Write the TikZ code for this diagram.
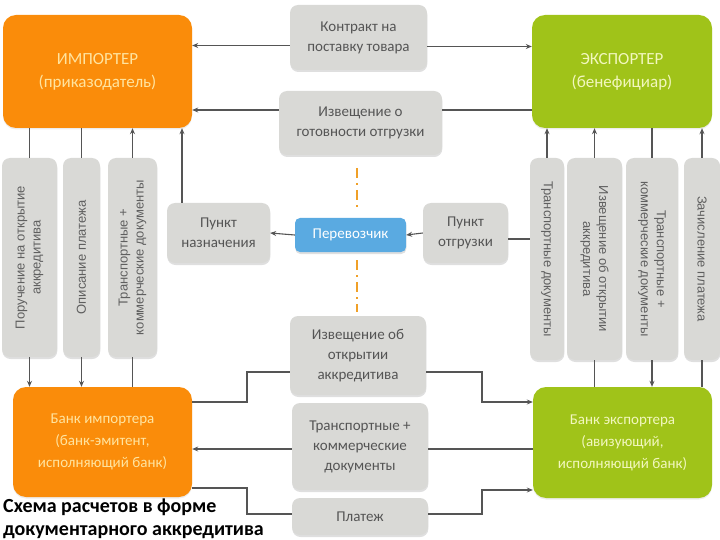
\documentclass[tikz,border=0pt]{standalone}
\usepackage{fontspec}
\setmainfont{Carlito}
\newfontfamily\arialf{Liberation Sans}
\usetikzlibrary{arrows.meta,shadows,calc}
\definecolor{impor}{RGB}{250,140,10}
\definecolor{expgr}{RGB}{160,195,25}
\definecolor{boxgray}{RGB}{217,217,214}
\definecolor{boxtext}{RGB}{85,85,85}
\definecolor{vtextgray}{RGB}{95,95,95}
\definecolor{carblue}{RGB}{90,170,225}
\definecolor{imptext}{RGB}{255,228,160}
\definecolor{exptext}{RGB}{242,247,190}
\definecolor{linegray}{RGB}{85,85,85}
\definecolor{dashor}{RGB}{240,160,40}
\begin{document}
\begin{tikzpicture}[x=1pt,y=-1pt,
  gbox/.style={fill=boxgray, rounded corners=8pt, inner sep=0pt, align=center, text=boxtext,
    font=\fontsize{15}{20}\selectfont,
    drop shadow={shadow xshift=0.3pt, shadow yshift=-2pt, opacity=0.25}},
  vtext/.style={font=\arialf\fontsize{13}{16}\selectfont, text=vtextgray, align=center, inner sep=0pt},
  cbox/.style={rounded corners=13pt, inner sep=0pt, align=center,
    drop shadow={shadow xshift=0pt, shadow yshift=-1.5pt, opacity=0.15}},
  conn/.style={draw=linegray, line width=1.1pt},
  arr/.style={conn, -{Stealth[length=6pt,width=5pt]}}
]
\useasboundingbox (0,0) rectangle (720,540);
% main parties
\node[cbox, fill=impor, minimum width=189pt, minimum height=113pt, text=imptext,
  font=\fontsize{17}{23}\selectfont] (imp) at (97.5,71.5) {ИМПОРТЕР\\(приказодатель)};
\node[cbox, fill=expgr, minimum width=180pt, minimum height=113pt, text=exptext,
  font=\fontsize{17}{23}\selectfont] (exp) at (622,71.5) {ЭКСПОРТЕР\\(бенефициар)};
\node[cbox, fill=impor, minimum width=179pt, minimum height=110pt, text=imptext,
  font=\fontsize{15}{22}\selectfont] (bankI) at (102.5,442) {Банк импортера\\(банк-эмитент,\\исполняющий банк)};
\node[cbox, fill=expgr, minimum width=179pt, minimum height=111pt, text=exptext,
  font=\fontsize{15}{22}\selectfont] (bankE) at (622.5,442.5) {Банк экспортера\\(авизующий,\\исполняющий банк)};
% top middle
\node[gbox, minimum width=137pt, minimum height=65pt] (contract) at (358.5,37.5) {Контракт на\\поставку товара};
\node[gbox, minimum width=163pt, minimum height=64pt] (notif) at (360.5,123) {Извещение о\\готовности отгрузки};
% carrier row
\node[gbox, minimum width=103pt, minimum height=60pt] (punktN) at (218.5,233) {Пункт\\назначения};
\node[gbox, fill=carblue, text=white, rounded corners=5pt, minimum width=111pt, minimum height=34pt] (carrier) at (350.5,235) {Перевозчик};
\node[gbox, minimum width=85pt, minimum height=60pt] (punktO) at (465.5,233) {Пункт\\отгрузки};
% bottom middle
\node[gbox, minimum width=136pt, minimum height=79pt] (izvO) at (358,355.5) {Извещение об\\открытии\\аккредитива};
\node[gbox, minimum width=136pt, minimum height=87pt] (docs) at (360,446.5) {Транспортные +\\коммерческие\\документы};
\node[gbox, minimum width=136pt, minimum height=37pt] (pay) at (360,516.5) {Платеж};
% left vertical boxes
\node[gbox, minimum width=55pt, minimum height=199pt] (vA) at (29.5,257.5) {};
\node[gbox, minimum width=37pt, minimum height=199pt] (vB) at (81.5,257.5) {};
\node[gbox, minimum width=49pt, minimum height=199pt] (vC) at (132.5,257.5) {};
\node[vtext, rotate=90] (tA) at (vA.center) {Поручение на открытие\\аккредитива};
\node[vtext, rotate=90] (tB) at (vB.center) {Описание платежа};
\node[vtext, rotate=90] (tC) at (vC.center) {Транспортные +\\коммерческие документы};
% right vertical boxes
\node[gbox, minimum width=34pt, minimum height=202pt] (v1) at (547,259) {};
\node[gbox, minimum width=55pt, minimum height=202pt] (v2) at (594.5,259) {};
\node[gbox, minimum width=52pt, minimum height=202pt] (v3) at (652,259) {};
\node[gbox, minimum width=36pt, minimum height=202pt] (v4) at (702,259) {};
\node[vtext, rotate=-90] (t1) at (v1.center) {Транспортные документы};
\node[vtext, rotate=-90] (t2) at (v2.center) {Извещение об открытии\\аккредитива};
\node[vtext, rotate=-90] (t3) at (v3.center) {Транспортные +\\коммерческие документы};
\node[vtext, rotate=-90] (t4) at (v4.center) {Зачисление платежа};
% caption
\node[anchor=west, align=left, inner sep=0pt, font=\bfseries\fontsize{20}{23}\selectfont] (cap) at (3,518.5) {Схема расчетов в форме\\документарного аккредитива};
% connectors top
\draw[arr] ([yshift=-8pt]contract.west) -- ([yshift=-8pt]contract.west -| imp.east);
\draw[arr] ([yshift=-9pt]contract.east) -- ([yshift=-9pt]contract.east -| exp.west);
\draw[conn] ([yshift=13pt]notif.east) -- ([yshift=13pt]notif.east -| exp.west);
\draw[arr] ([yshift=13pt]notif.west) -- ([yshift=13pt]notif.west -| imp.east);
% left verticals
\draw[conn] (vA.north) -- (vA.north |- imp.south);
\draw[arr] (vA.south) -- (vA.south |- bankI.north);
\draw[conn] (vB.north) -- (vB.north |- imp.south);
\draw[arr] (vB.south) -- (vB.south |- bankI.north);
\draw[arr] (vC.north) -- (vC.north |- imp.south);
\draw[conn] (vC.south) -- (vC.south |- bankI.north);
\draw[arr] ([xshift=-36.5pt]punktN.north) -- ([xshift=-36.5pt]punktN.north |- imp.south);
% carrier row
\draw[arr] (carrier.west) -- (punktN.east);
\draw[arr] (punktO.west) -- (carrier.east);
\draw[conn] ([yshift=-6pt]punktO.east) -- ([yshift=-6pt]punktO.east -| v1.west);
\draw[dashor, line width=1.3pt, dash pattern=on 10pt off 5pt on 2pt off 5pt] (357,168) -- (357,207);
\draw[dashor, line width=1.3pt, dash pattern=on 10pt off 5pt on 2pt off 5pt] (357,260) -- (357,312);
% right verticals
\draw[arr] (v1.north) -- (v1.north |- exp.south);
\draw[conn] (v2.south |- bankE.north) -- (v2.south);
\draw[arr] (v2.north) -- (v2.north |- exp.south);
\draw[conn] (v3.north |- exp.south) -- (v3.north);
\draw[arr] (v3.south) -- (v3.south |- bankE.north);
\draw[conn] (v4.south |- bankE.north) -- (v4.south);
\draw[arr] (v4.north) -- (v4.north |- exp.south);
% bottom connectors
\coordinate (jl) at (247,0);
\coordinate (jr) at (482,0);
\draw[conn] ([yshift=40pt]bankI.east) -- ([yshift=40pt]bankI.east -| jl) |- ([yshift=-16.5pt]izvO.west);
\draw[arr] ([yshift=-16.5pt]izvO.east) -- ([yshift=-16.5pt]izvO.east -| jr) |- ([yshift=40.5pt]bankE.west);
\draw[conn] ([yshift=-2.5pt]docs.east) -- ([yshift=-2.5pt]docs.east -| bankE.west);
\draw[arr] ([yshift=-2.5pt]docs.west) -- ([yshift=-2.5pt]docs.west -| bankI.east);
\draw[conn] ([yshift=-46pt]bankI.east) -- ([yshift=-46pt]bankI.east -| jl) |- ([yshift=2.5pt]pay.west);
\draw[arr] ([yshift=2.5pt]pay.east) -- ([yshift=2.5pt]pay.east -| jr) |- ([yshift=-47.5pt]bankE.west);
\end{tikzpicture}
\end{document}
